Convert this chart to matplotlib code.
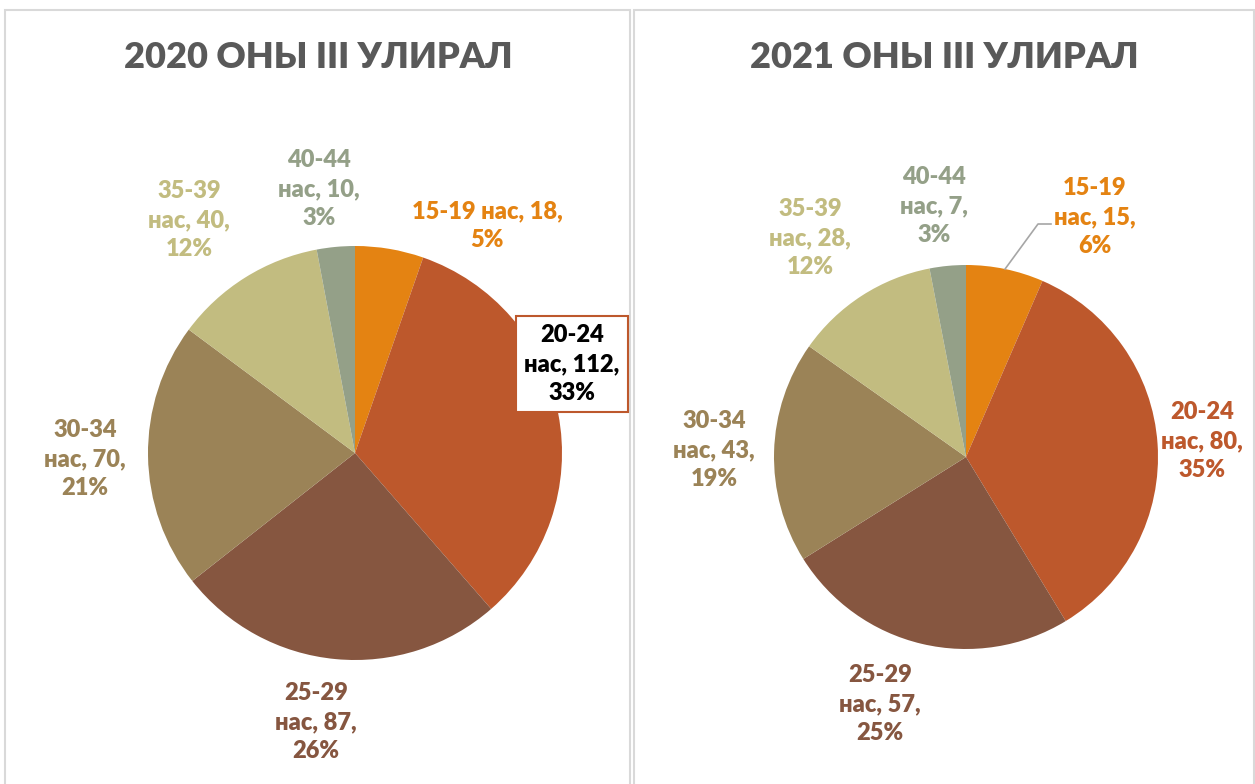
import matplotlib.pyplot as plt
import numpy as np
from matplotlib.patches import Rectangle

# age groups (same in both years)
age_groups = ['15-19', '20-24', '25-29', '30-34', '35-39', '40-44']
counts_2020 = [18, 112, 87, 70, 40, 10]
counts_2021 = [15, 80, 57, 43, 28, 7]
pct_2020 = ['5%', '33%', '26%', '21%', '12%', '3%']
pct_2021 = ['6%', '35%', '25%', '19%', '12%', '3%']
titles = ['2020 ОНЫ III УЛИРАЛ', '2021 ОНЫ III УЛИРАЛ']

colors = ['#E48312', '#BD582C', '#865640', '#9B8357', '#C2BC80', '#94A088']

W, H = 1255, 784
plt.rcParams['font.family'] = ['Lato', 'DejaVu Sans']

fig = plt.figure(figsize=(W / 100, H / 100), dpi=100)


def fx(px):
    return px / W


def fy(py):
    return 1 - py / H


# panel frames
for x0, x1 in [(5, 630), (634, 1254)]:
    fig.patches.append(Rectangle((fx(x0), fy(790)), fx(x1 - x0), (790 - 10) / H,
                                 transform=fig.transFigure, fill=False,
                                 edgecolor='#d9d9d9', linewidth=1.5))

# pie layout: centre and radius in pixels
pie_geom = [((355, 453), 207), ((966, 457), 192)]
title_x = [318, 944]

# label centres (pixels) for each slice, as Excel placed them
label_pos = [
    [(487, 226), (572, 364), (316, 722), (85, 459), (189, 220), (319, 189)],
    [(1095, 217), (1202, 441), (880, 704), (714, 450), (810, 238), (934, 206)],
]

for i, (counts, pcts) in enumerate([(counts_2020, pct_2020), (counts_2021, pct_2021)]):
    (cx, cy), r = pie_geom[i]
    ax = fig.add_axes([fx(cx - r), fy(cy + r), 2 * r / W, 2 * r / H])
    ax.pie(counts, colors=colors, startangle=90, counterclock=False, radius=1,
           wedgeprops=dict(linewidth=0))
    ax.set_xlim(-1, 1)
    ax.set_ylim(-1, 1)
    ax.axis('off')

    fig.text(fx(title_x[i]), fy(57), titles[i], ha='center', va='center',
             fontsize=26, fontweight='heavy', color='#595959')

    for j, grp in enumerate(age_groups):
        if i == 0 and j == 0:
            txt = f'{grp} нас, {counts[j]},\n{pcts[j]}'
        else:
            txt = f'{grp}\nнас, {counts[j]},\n{pcts[j]}'
        px, py = label_pos[i][j]
        col = colors[j]
        kw = {}
        if i == 0 and j == 1:
            col = 'black'
            kw['bbox'] = dict(boxstyle='square,pad=0.35', facecolor='white',
                              edgecolor=colors[1], linewidth=1.5)
        fig.text(fx(px), fy(py), txt, ha='center', va='center', fontsize=17,
                 fontweight='heavy', color=col, linespacing=1.38, **kw)

# leader line for 2021 15-19 slice, starting at the slice mid-angle
(cx, cy), r = pie_geom[1]
mid = 90 - 360 * counts_2021[0] / sum(counts_2021) / 2
sx = cx + r * np.cos(np.radians(mid))
sy = cy - r * np.sin(np.radians(mid))
fig.lines.append(plt.Line2D([fx(sx), fx(1038), fx(1051)], [fy(sy), fy(224), fy(224)],
                            transform=fig.transFigure, color='#a6a6a6', linewidth=1.2))

fig.savefig('out.png', dpi=100, facecolor='white')
